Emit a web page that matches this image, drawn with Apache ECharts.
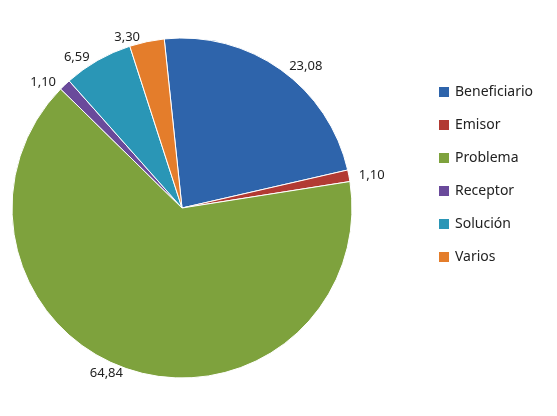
<!DOCTYPE html>
<html><head><meta charset="utf-8">
<script src="https://cdn.jsdelivr.net/npm/echarts@6/dist/echarts.min.js"></script>
<style>html,body{margin:0;padding:0;background:#fff}#c{width:557px;height:416px}</style>
</head><body><div id="c"></div>
<script>
const categories = ["Beneficiario","Emisor","Problema","Receptor","Solución","Varios"];
const values = [23.08,1.10,64.84,1.10,6.59,3.30];
const colors = ["#2e64ab","#b23a33","#7ea23d","#6a4a9b","#2a96b6","#e47d2b"];
const chart = echarts.init(document.getElementById('c'));
chart.setOption({
  animation:false,
  color:colors,
  textStyle:{fontFamily:"Noto Sans"},
  legend:{orient:'vertical',left:432,top:80,itemGap:19,itemWidth:12,itemHeight:12,icon:'rect',
    textStyle:{fontSize:14,color:'#222'},data:categories},
  series:[{type:'pie',center:[182,208],radius:[0,170],startAngle:96,clockwise:true,
    data:categories.map((n,i)=>({name:n,value:values[i]})),
    label:{show:true,position:'outside',fontSize:13,color:'#222',distanceToLabelLine:2,
      formatter:p=>p.value.toFixed(2).replace('.',',')},
    labelLine:{show:true,length:4,length2:4,lineStyle:{opacity:0}},
    itemStyle:{borderColor:'#fff',borderWidth:1}}]
});
</script></body></html>
